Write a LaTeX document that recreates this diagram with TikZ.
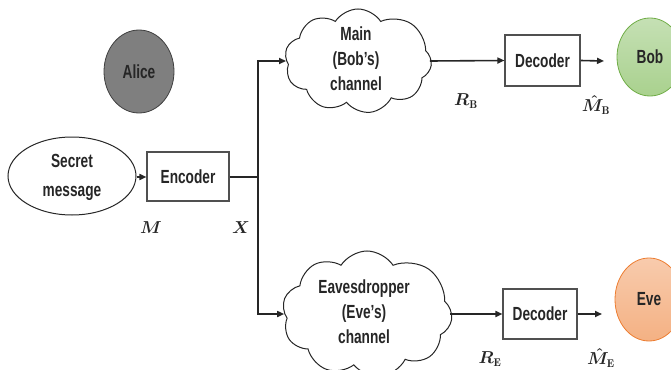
\documentclass[tikz,border=0pt]{standalone}
\usepackage{fontspec}
\newfontfamily\lab[FakeStretch=0.72]{Liberation Sans}
\usetikzlibrary{shapes.symbols,shapes.geometric,arrows.meta}
\definecolor{alicefill}{HTML}{7F7F7F}
\definecolor{aliceline}{HTML}{3F3F3F}
\definecolor{bobtop}{HTML}{C5E0B4}
\definecolor{bobbot}{HTML}{A9D18E}
\definecolor{bobline}{HTML}{70AD47}
\definecolor{evetop}{HTML}{F8CBAD}
\definecolor{evebot}{HTML}{F4B183}
\definecolor{eveline}{HTML}{ED7D31}
\definecolor{boxline}{HTML}{505050}
\tikzset{
  txt/.style={font=\lab\bfseries\fontsize{19}{25}\selectfont, text=black!85, align=center},
  mlab/.style={font=\boldmath\fontsize{16}{18}\selectfont, text=black!85, inner sep=1pt},
  blk/.style={draw=boxline, line width=1.1pt, rectangle, inner sep=0pt},
  cloudnode/.style={cloud, cloud puffs=9.5, cloud puff arc=115, draw=black!85, line width=1pt, inner sep=0pt},
  conn/.style={draw=black!85, line width=1.6pt},
  arr/.style={conn, -{Triangle[length=7pt,width=6pt]}},
}
\begin{document}
\begin{tikzpicture}[x=1pt,y=-1pt]
\useasboundingbox (0,0) rectangle (671,369);
% persons
\node[ellipse, draw=aliceline, line width=0.8pt, fill=alicefill, minimum width=70pt, minimum height=83pt, txt] (alice) at (139,71.5) {Alice};
\node[ellipse, draw=bobline, line width=0.8pt, top color=bobtop, bottom color=bobbot, minimum width=66pt, minimum height=78pt, txt] (bob) at (650,57) {Bob};
\node[ellipse, draw=eveline, line width=0.8pt, top color=evetop, bottom color=evebot, minimum width=68pt, minimum height=83pt, txt] (eve) at (649,299.5) {Eve};
% source
\node[ellipse, draw=black!85, line width=1pt, minimum width=128pt, minimum height=78pt, inner sep=0pt] (msg) at (72,176) {};
\node[txt] (msgtxt) at (72,177) {Secret\\[4pt]message};
\node[blk, minimum width=82pt, minimum height=49pt, txt] (enc) at (188,176.5) {Encoder};
% clouds
\node[cloudnode, minimum width=147pt, minimum height=104pt] (mainc) at (358,61) {};
\node[txt] (maintxt) at (356,59) {Main\\(Bob’s)\\channel};
\node[cloudnode, minimum width=170pt, minimum height=126pt] (evec) at (367,314) {};
\node[txt] (evetxt) at (364,312) {Eavesdropper\\(Eve’s)\\channel};
% decoders
\node[blk, minimum width=75pt, minimum height=51pt, txt] (decb) at (542.5,60.5) {Decoder};
\node[blk, minimum width=74pt, minimum height=50pt, txt] (dece) at (540,314) {Decoder};
% connectors
\coordinate (split) at (258,177);
\coordinate (outb) at (604,61);
\coordinate (oute) at (602,314);
\draw[arr] (msg.east |- 0,177) -- (enc.west |- 0,177);
\draw[conn] (enc.east |- split) -- (split);
\draw[arr] (split) |- (mainc.west);
\draw[arr] (split) |- (evec.west);
\draw[arr] (mainc.east) -- (decb.west);
\draw[arr] (dece.west -| evec.east) -- (dece.west);
\draw[arr] (decb.east) -- (outb);
\draw[arr] (dece.east) -- (oute);
% labels
\node[mlab] (lM) at (151,228) {$M$};
\node[mlab] (lX) at (241,228) {$X$};
\node[mlab] (lRB) at (466,101) {$R_{\mathrm{B}}$};
\node[mlab] (lMB) at (596,105) {$\hat{M}_{\mathrm{B}}$};
\node[mlab] (lRE) at (490,359) {$R_{\mathrm{E}}$};
\node[mlab] (lME) at (601,358) {$\hat{M}_{\mathrm{E}}$};
\end{tikzpicture}
\end{document}
